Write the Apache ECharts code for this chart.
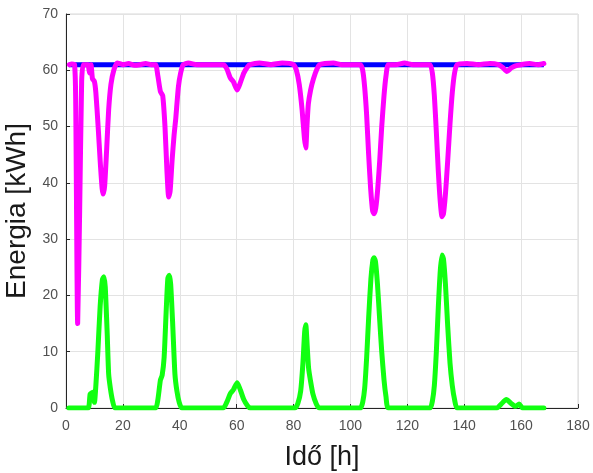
<!DOCTYPE html>
<html>
<head>
<meta charset="utf-8">
<script src="https://cdn.jsdelivr.net/npm/echarts@6/dist/echarts.min.js"></script>
<style>
html,body{margin:0;padding:0;background:#fff;}
#chart{width:593px;height:473px;}
</style>
</head>
<body>
<div id="chart"></div>
<script>
// Hours (x) and values for each series
var capacityHours = [1, 168];
var capacityValues = [61, 61];

var storedHours = [1.2, 2, 3, 3.4, 4.1, 4.8, 5.5, 6, 7, 7.7, 8.3, 8.8, 9.3, 10, 10.5, 11.3, 12, 12.7, 13.1, 13.6, 14.3, 15, 15.8, 16.8, 18, 20, 22, 24, 26, 28, 30, 31.5, 32.3, 33.2, 34, 34.8, 35.5, 36.1, 36.6, 37.3, 38, 38.6, 39.5, 40.3, 41.2, 43, 46, 49, 52, 55.3, 56.5, 57.8, 58.8, 60.2, 61.3, 62.5, 63.8, 64.7, 68, 72, 76, 80, 81, 82, 83, 83.8, 84.3, 84.7, 85.2, 86, 87, 88.3, 89.2, 91, 94, 97, 100, 103.5, 104.3, 105, 105.7, 106.4, 107.1, 107.8, 108.3, 108.9, 109.6, 110.3, 111, 111.8, 112.5, 113.3, 116, 119, 122, 125, 128, 128.8, 129.5, 130.2, 130.9, 131.6, 132.2, 132.7, 133.4, 134.2, 135, 135.8, 136.6, 137.5, 141, 145, 149, 152, 153.5, 155, 156.5, 158, 160, 163, 166, 168];
var storedValues = [61, 61.1, 61, 55, 15, 35, 58, 61, 61, 61, 59.5, 61, 58.5, 58, 56, 50, 44, 39, 38, 39.5, 46, 53, 57.5, 60, 61.3, 61, 61.2, 60.9, 61, 61.2, 61, 61, 59, 56.2, 55.5, 50, 42, 37.5, 38.5, 44, 48.5, 51.5, 57, 59.5, 61, 61.3, 61, 61, 61, 61, 60.3, 58.6, 58, 56.5, 57.8, 59.5, 60.6, 61, 61.3, 61, 61.3, 61, 60, 57.5, 53, 48, 46.2, 50, 54, 56.5, 58.5, 60.3, 61, 61.2, 61.3, 61, 61, 61, 60, 57, 52, 45, 39, 35, 34.5, 35.5, 39, 44, 50, 55.5, 59, 61, 61, 61.3, 61, 61, 61, 59.5, 55.5, 49, 42, 36.5, 34, 34.5, 38, 44, 50.5, 56, 59.5, 61, 61.2, 61, 61.2, 61, 60.5, 59.8, 60.4, 60.8, 61, 61.2, 61, 61.2];

var gridHours = [1, 7.7, 8.5, 9.5, 10, 10.5, 11.2, 12, 12.8, 13.3, 13.8, 14.5, 15, 15.6, 16.4, 17.2, 20, 25, 31.5, 32.3, 33.2, 33.8, 34.5, 35.2, 35.8, 36.3, 36.8, 37.5, 38.3, 39, 39.8, 40.7, 45, 50, 55.3, 56.5, 57.8, 58.8, 60.2, 61.3, 62.5, 63.8, 64.7, 70, 75, 80.5, 81.5, 82.5, 83.3, 83.9, 84.3, 84.8, 85.3, 85.9, 86.8, 88, 89, 95, 100, 103.5, 104.3, 105, 105.7, 106.4, 107.2, 107.9, 108.3, 108.8, 109.5, 110.3, 111, 111.8, 112.5, 113.3, 120, 128, 128.8, 129.5, 130.2, 130.9, 131.6, 132.2, 132.7, 133.4, 134.2, 135, 135.8, 136.6, 137.5, 145, 151.5, 153, 154.8, 156.5, 158, 159.3, 160.5, 163, 168];
var gridValues = [0, 0, 2.5, 2.8, 1, 4, 10, 18, 22.8, 23.3, 21.5, 13, 6, 3.5, 1.2, 0, 0, 0, 0, 1.5, 5, 5.8, 9, 17, 23, 23.6, 22, 15, 6, 3, 1, 0, 0, 0, 0, 1, 2.6, 3.2, 4.5, 3.2, 1.5, 0.4, 0, 0, 0, 0, 0.8, 3, 8, 13.5, 14.8, 11, 7, 5, 2.5, 0.7, 0, 0, 0, 0, 1, 3.5, 9, 16, 23, 26.3, 26.7, 26, 22, 15.5, 10, 5, 2, 0, 0, 0, 1.2, 4, 10, 18, 24.5, 27.2, 26.5, 22, 14.5, 8, 4, 1.5, 0, 0, 0, 0.7, 1.5, 0.8, 0.3, 0.7, 0, 0, 0];

function pairs(xs, ys) {
  var out = [];
  for (var i = 0; i < xs.length; i++) out.push([xs[i], ys[i]]);
  return out;
}

var chart = echarts.init(document.getElementById('chart'), null, {renderer: 'canvas'});
var tickColor = '#505050';
var font = 'Liberation Sans';
chart.setOption({
  animation: false,
  backgroundColor: '#ffffff',
  grid: {left: 66, right: 15, top: 14, bottom: 65, containLabel: false, outerBoundsMode: 'none',
         show: true, borderColor: '#d9d9d9', borderWidth: 1},
  xAxis: {
    type: 'value', min: 0, max: 180, interval: 20,
    name: 'Idő [h]', nameLocation: 'middle', nameGap: 36,
    nameTextStyle: {fontFamily: font, fontSize: 27, color: '#1a1a1a'},
    axisLine: {show: true, onZero: false, lineStyle: {color: '#262626', width: 1}},
    axisTick: {show: true, inside: true, length: 4, lineStyle: {color: '#262626'}},
    axisLabel: {fontFamily: font, fontSize: 14, color: tickColor, margin: 11},
    splitLine: {show: true, lineStyle: {color: '#e3e3e3', width: 1}}
  },
  yAxis: {
    type: 'value', min: 0, max: 70, interval: 10,
    name: 'Energia [kWh]', nameLocation: 'middle', nameGap: 30,
    nameTextStyle: {fontFamily: font, fontSize: 28, color: '#1a1a1a'},
    axisLine: {show: true, lineStyle: {color: '#262626', width: 1}},
    axisTick: {show: true, inside: true, length: 4, lineStyle: {color: '#262626'}},
    axisLabel: {fontFamily: font, fontSize: 14, color: tickColor, margin: 8},
    splitLine: {show: true, lineStyle: {color: '#e3e3e3', width: 1}}
  },
  series: [
    {
      name: 'Kapacitás', type: 'line', data: pairs(capacityHours, capacityValues),
      showSymbol: false, lineStyle: {color: '#0000ff', width: 5}, z: 2
    },
    {
      name: 'Tárolt energia', type: 'line', data: pairs(storedHours, storedValues),
      showSymbol: false, smooth: 0.2, lineStyle: {color: '#ff00ff', width: 5, join: 'round', cap: 'round'}, z: 3
    },
    {
      name: 'Hálózat', type: 'line', data: pairs(gridHours, gridValues),
      showSymbol: false, smooth: 0.2, lineStyle: {color: '#11ff11', width: 5, join: 'round', cap: 'round'}, z: 4
    }
  ]
});
</script>
</body>
</html>
